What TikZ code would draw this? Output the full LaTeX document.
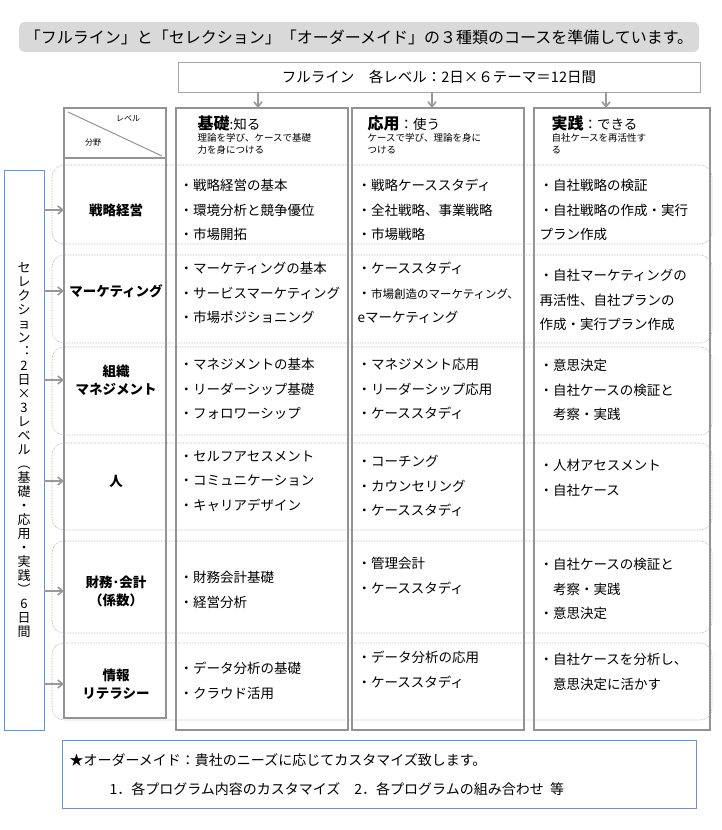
\documentclass[tikz,border=0pt]{standalone}
\usepackage{fontspec}
\setmainfont{Noto Sans CJK JP}
\usetikzlibrary{arrows.meta}
\definecolor{bbox}{RGB}{120,145,175}
\begin{document}
\begin{tikzpicture}[x=1pt,y=-1pt,
  col/.style={draw=gray!85,line width=2.6pt},
  rowbox/.style={draw=gray!70,densely dotted,rounded corners=12pt,line width=0.6pt},
  arr/.style={-{Straight Barb[length=5pt,width=8pt]},draw=gray!80,line width=1.6pt},
  cell/.style={anchor=west,align=left,font=\fontsize{13.5}{24.5}\selectfont},
  lab/.style={align=center,font=\fontsize{13.5}{18}\selectfont\bfseries}]
\useasboundingbox (0,0) rectangle (721,830);
\node[fill=gray!30,rounded corners=6pt,minimum width=680pt,minimum height=30pt,font=\fontsize{16}{18}\selectfont] (title) at (359,37) {「フルライン」と「セレクション」「オーダーメイド」の３種類のコースを準備しています。};
\node[draw=gray!70,line width=0.8pt,minimum width=522pt,minimum height=30pt,font=\fontsize{14.5}{16}\selectfont] (full) at (439,77) {フルライン\quad 各レベル：2日×６テーマ＝12日間};
% columns
\draw[col] (64,108) rectangle (166,718);
\draw[col] (176,108) rectangle (348,730);
\draw[col] (352,108) rectangle (524,730);
\draw[col] (534,108) rectangle (710,730);
\coordinate (c1) at (258,108);\coordinate (c2) at (432,108);\coordinate (c3) at (606,108);
\draw[arr] (full.south -| c1) -- (c1);
\draw[arr] (full.south -| c2) -- (c2);
\draw[arr] (full.south -| c3) -- (c3);
% header cells
\draw[gray!85,line width=1pt] (68,112) -- (162,156);
\node[font=\fontsize{8}{9}\selectfont] (lv) at (128,119) {レベル};
\node[font=\fontsize{8}{9}\selectfont] (bn) at (93,143) {分野};
\draw[gray!85,line width=2.6pt] (64,158) -- (166,158);
\node[anchor=north west,align=left,font=\fontsize{9.5}{12}\selectfont] (h1) at (194,112) {{\fontsize{16}{18}\selectfont\bfseries 基礎}{\fontsize{13.5}{18}\selectfont:知る}\\理論を学び、ケースで基礎\\力を身につける};
\node[anchor=north west,align=left,font=\fontsize{9.5}{12}\selectfont] (h2) at (364,112) {{\fontsize{16}{18}\selectfont\bfseries 応用}{\fontsize{13.5}{18}\selectfont：使う}\\ケースで学び、理論を身に\\つける};
\node[anchor=north west,align=left,font=\fontsize{9.5}{12}\selectfont] (h3) at (548,112) {{\fontsize{16}{18}\selectfont\bfseries 実践}{\fontsize{13.5}{18}\selectfont：できる}\\自社ケースを再活性す\\る};
% rows
\foreach \a/\b in {165/244,255/343,347/435,443/530,541/633,643/720}
  \draw[rowbox] (52,\a) rectangle (712,\b);
% left box
\node[draw=bbox,line width=0.8pt,minimum width=40pt,minimum height=560pt,inner sep=0pt] (sel) at (24,450) {};
\node[align=center,font=\fontsize{13}{14}\selectfont] (selt) at (24,450) {セ\\レ\\ク\\シ\\ョ\\ン\\︓\\2\\日\\×\\3\\レ\\ベ\\ル\\︵\\基\\礎\\・\\応\\用\\・\\実\\践\\︶\\6\\日\\間};
% row labels
\node[lab] (r1) at (116,210) {戦略経営};
\node[lab] (r2) at (116,291) {マーケティング};
\node[lab] (r3) at (116,380) {組織\\マネジメント};
\node[lab] (r4) at (116,481) {人};
\node[lab] (r5) at (116,591) {財務･会計\\（係数）};
\node[lab] (r6) at (116,684) {情報\\リテラシー};
\foreach \r in {r1,r2,r3,r4,r5,r6}
  \draw[arr] (sel.east |- \r) -- (64,0 |- \r);
% cells
\node[cell] (a1) at (176,210) {・戦略経営の基本\\・環境分析と競争優位\\・市場開拓};
\node[cell] (b1) at (354,210) {・戦略ケーススタディ\\・全社戦略、事業戦略\\・市場戦略};
\node[cell] (d1) at (536,210) {・自社戦略の検証\\・自社戦略の作成・実行\\プラン作成};
\node[cell] (a2) at (176,293) {・マーケティングの基本\\・サービスマーケティング\\・市場ポジショニング};
\node[cell] (b2) at (354,293) {・ケーススタディ\\・{\fontsize{11.5}{24}\selectfont 市場創造のマーケティング、}\\eマーケティング};
\node[cell] (d2) at (536,300) {・自社マーケティングの\\再活性、自社プランの\\作成・実行プラン作成};
\node[cell] (a3) at (176,389) {・マネジメントの基本\\・リーダーシップ基礎\\・フォロワーシップ};
\node[cell] (b3) at (354,389) {・マネジメント応用\\・リーダーシップ応用\\・ケーススタディ};
\node[cell] (d3) at (536,390) {・意思決定\\・自社ケースの検証と\\　考察・実践};
\node[cell] (a4) at (176,481) {・セルフアセスメント\\・コミュニケーション\\・キャリアデザイン};
\node[cell] (b4) at (354,486) {・コーチング\\・カウンセリング\\・ケーススタディ};
\node[cell] (d4) at (536,478) {・人材アセスメント\\・自社ケース};
\node[cell] (a5) at (176,590) {・財務会計基礎\\・経営分析};
\node[cell] (b5) at (354,576) {・管理会計\\・ケーススタディ};
\node[cell] (d5) at (536,589) {・自社ケースの検証と\\　考察・実践\\・意思決定};
\node[cell] (a6) at (176,681) {・データ分析の基礎\\・クラウド活用};
\node[cell] (b6) at (354,670) {・データ分析の応用\\・ケーススタディ};
\node[cell] (d6) at (536,672) {・自社ケースを分析し、\\　意思決定に活かす};
% bottom
\node[draw=bbox,line width=0.8pt,minimum width=634pt,minimum height=68pt] (om) at (379,774) {};
\node[anchor=west,font=\fontsize{14}{16}\selectfont] (om1) at (66,760) {★オーダーメイド：貴社のニーズに応じてカスタマイズ致します。};
\node[anchor=west,font=\fontsize{14}{16}\selectfont] (om2) at (106,789) {1．各プログラム内容のカスタマイズ\quad 2．各プログラムの組み合わせ\ \ 等};
\end{tikzpicture}
\end{document}
